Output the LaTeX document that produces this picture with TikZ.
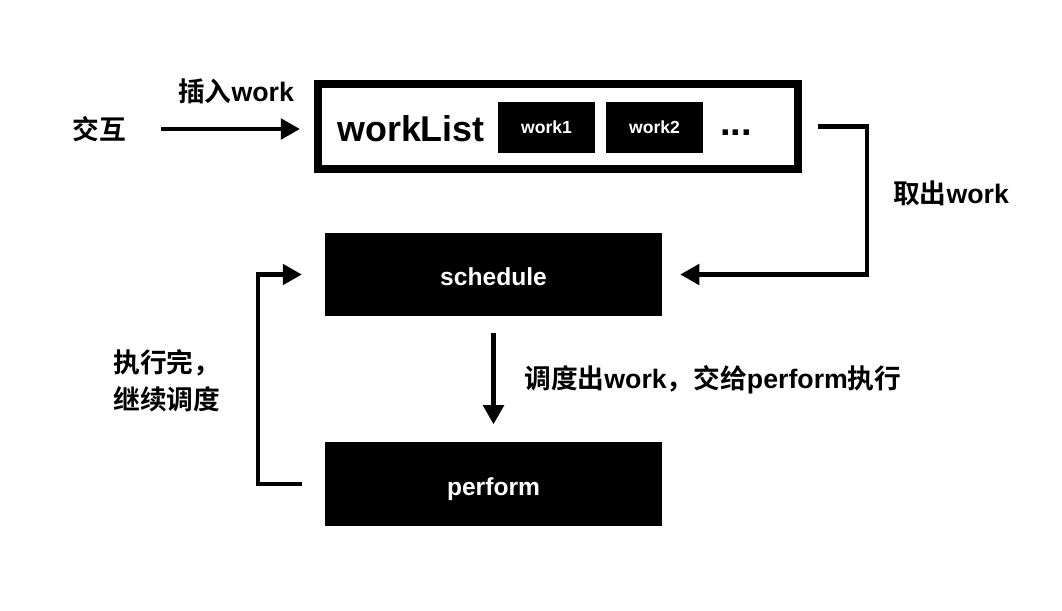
\documentclass[tikz,border=0pt]{standalone}
\usepackage{fontspec}
\setmainfont{Liberation Sans}
\newfontfamily\cjk{Noto Sans CJK SC}[BoldFont={Noto Sans CJK SC Bold}]
\usetikzlibrary{arrows.meta}
\newcommand\zh[1]{{\cjk #1}}
\tikzset{label text/.style={font=\bfseries\fontsize{19}{26.5}\selectfont, inner sep=0pt},
	black box/.style={fill=black, text=white, font=\bfseries\fontsize{17.5}{20}\selectfont,
		minimum width=8.425cm, minimum height=2.075cm, text height=16pt, text depth=0pt},
	item box/.style={fill=black, text=white, font=\bfseries\fontsize{12.5}{14}\selectfont,
		minimum width=2.425cm, minimum height=1.275cm},
	flow/.style={line width=2.9pt, -{Triangle[length=13.5pt,width=14.5pt]}}}

\begin{document}
\begin{tikzpicture}[x=0.025cm, y=-0.025cm]
		\useasboundingbox (0,0) rectangle (1062,610);
		% work list
		\node[draw, line width=5.7pt, minimum width=12cm, minimum height=2.125cm] (worklist) at (558,126.5) {};
		\node[font=\bfseries\fontsize{25.5}{28}\selectfont, inner sep=0pt] (listname) at (411,129) {workList};
		\node[item box] (work1) at (546.5,127.5) {work1};
		\node[item box] (work2) at (654.5,127.5) {work2};
		\node[font=\bfseries\fontsize{27}{28}\selectfont, inner sep=0pt] (more) at (736,133) {...};
		
		\node[black box] (schedule) at (493.5,274.5) {schedule};
		\node[black box] (perform) at (493.5,484) {perform};
		
		% labels
		\node[label text] (jiaohu) at (99,129) {\zh{交互}};
		\node[label text] (insert) at (236,91) {\zh{插入}work};
		\node[label text] (takeout) at (951,193) {\zh{取出}work};
		\node[label text, anchor=west] (dispatch) at (524,380) {\zh{调度出}work\zh{，交给}perform\zh{执行}};
		\node[label text, anchor=west, align=left] (again) at (113,381) {\zh{执行完，}\\\zh{继续调度}};
		
		% connectors
		\coordinate (rcorner) at (867,126.5);
		\coordinate (lcorner) at (258,484);
		\draw[flow, shorten <=25pt, shorten >=10pt] (jiaohu.east) -- (jiaohu.east -| worklist.west);
		\draw[flow, shorten <=11.3pt, shorten >=12.8pt] (worklist.east) -- (rcorner) |- (schedule.east);
		\draw[flow, shorten <=12pt, shorten >=12.8pt] (schedule.south) -- (perform.north);
		\draw[flow, shorten <=16.3pt, shorten >=16.3pt] (perform.west) -- (lcorner) |- (schedule.west);
		\end{tikzpicture}
\end{document}
